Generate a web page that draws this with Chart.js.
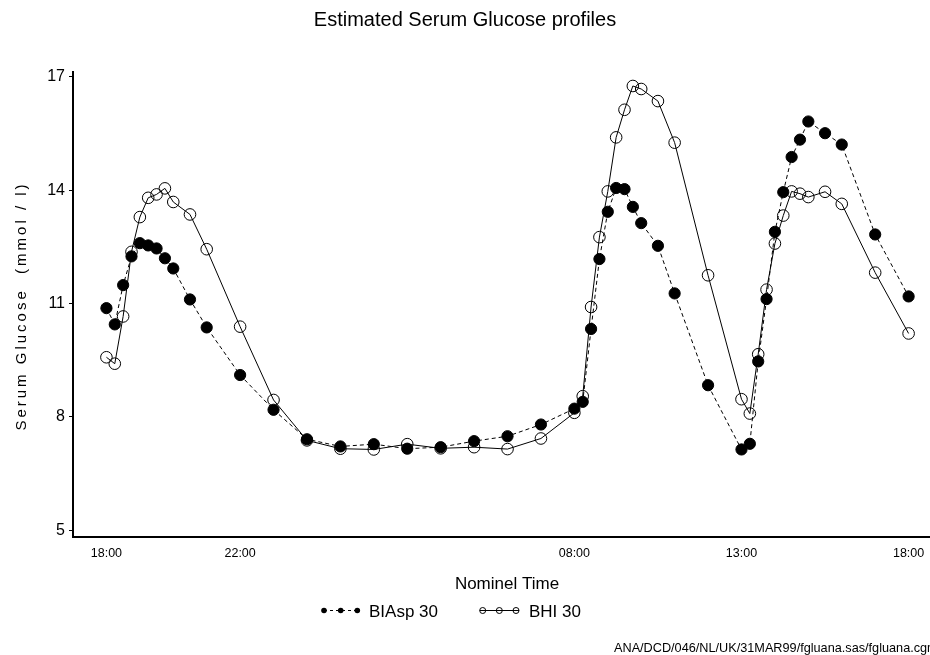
<!DOCTYPE html>
<html><head><meta charset="utf-8">
<script src="https://cdn.jsdelivr.net/npm/chart.js@4.4.0/dist/chart.umd.min.js"></script>
<style>html,body{margin:0;padding:0;background:#fff;}</style>
</head><body>
<canvas id="c" width="930" height="655" style="display:block;width:930px;height:655px"></canvas>
<script>
// hours after 18:00 on day 1
const hoursFrom1800 = [0,0.25,0.5,0.75,1,1.25,1.5,1.75,2,2.5,3,4,5,6,7,8,9,10,11,12,13,14,14.25,14.5,14.75,15,15.25,15.5,15.75,16,16.5,17,18,19,19.25,19.5,19.75,20,20.25,20.5,20.75,21,21.5,22,23,24];
const biasp30 = [10.88,10.45,11.49,12.25,12.60,12.54,12.46,12.20,11.93,11.11,10.37,9.11,8.19,7.41,7.22,7.28,7.16,7.20,7.36,7.49,7.80,8.22,8.40,10.33,12.18,13.43,14.06,14.03,13.56,13.13,12.53,11.27,8.84,7.14,7.29,9.47,11.12,12.90,13.95,14.88,15.34,15.82,15.51,15.21,12.83,11.19];
const bhi30 = [9.58,9.41,10.66,12.37,13.29,13.80,13.89,14.05,13.69,13.36,12.44,10.39,8.45,7.38,7.16,7.14,7.28,7.17,7.20,7.15,7.43,8.11,8.55,10.91,12.76,13.97,15.40,16.13,16.76,16.68,16.36,15.26,11.75,8.47,8.09,9.66,11.37,12.59,13.33,13.97,13.91,13.82,13.96,13.64,11.82,10.21];
const seriesNames = ['BIAsp 30','BHI 30'];
const xTickValues = [0,4,14,19,24];
const xTickLabels = ['18:00','22:00','08:00','13:00','18:00'];
const yTickValues = [5,8,11,14,17];
const chartTitle = 'Estimated Serum Glucose profiles';
const xAxisTitle = 'Nominel Time';
const yAxisTitle = 'Serum Glucose  (mmol / l)';
const footnote = 'ANA/DCD/046/NL/UK/31MAR99/fgluana.sas/fgluana.cgm';

const FONT = '"Liberation Sans", Arial, Helvetica, sans-serif';

const textPlugin = {
  id: 'texts',
  afterDraw(chart) {
    const ctx = chart.ctx;
    ctx.save();
    ctx.fillStyle = '#000';
    ctx.textBaseline = 'alphabetic';
    // title
    ctx.font = '20px ' + FONT;
    ctx.textAlign = 'center';
    ctx.fillText(chartTitle, 465, 26);
    // x title
    ctx.font = '17px ' + FONT;
    ctx.fillText(xAxisTitle, 507, 589);
    // y title
    ctx.save();
    ctx.translate(26, 306);
    ctx.rotate(-Math.PI / 2);
    ctx.font = '15px ' + FONT;
    ctx.letterSpacing = '3px';
    ctx.textAlign = 'center';
    ctx.fillText(yAxisTitle, 0, 0);
    ctx.restore();
    // legend
    const ly = 610.5;
    ctx.textAlign = 'left';
    ctx.font = '17px ' + FONT;
    // BIAsp
    ctx.strokeStyle = '#000';
    ctx.lineWidth = 1;
    ctx.setLineDash([3, 3]);
    ctx.beginPath(); ctx.moveTo(324, ly); ctx.lineTo(357, ly); ctx.stroke();
    ctx.setLineDash([]);
    [324, 340.7, 357.3].forEach(x => { ctx.beginPath(); ctx.arc(x, ly, 2.8, 0, Math.PI * 2); ctx.fill(); });
    ctx.fillText(seriesNames[0], 369, 617);
    // BHI
    ctx.beginPath(); ctx.moveTo(482.7, ly); ctx.lineTo(516, ly); ctx.stroke();
    [482.7, 499.3, 516].forEach(x => { ctx.beginPath(); ctx.arc(x, ly, 3, 0, Math.PI * 2); ctx.fillStyle = '#fff'; ctx.fill(); ctx.stroke(); });
    ctx.beginPath(); ctx.moveTo(479.7, ly); ctx.lineTo(519, ly); ctx.stroke();
    ctx.fillStyle = '#000';
    ctx.fillText(seriesNames[1], 529, 617);
    // footnote
    ctx.font = '12.7px ' + FONT;
    ctx.fillText(footnote, 614, 652);
    ctx.restore();
  }
};

const mkPoints = vals => hoursFrom1800.map((h, i) => ({ x: h, y: vals[i] }));

new Chart(document.getElementById('c'), {
  type: 'line',
  data: {
    datasets: [
      {
        label: seriesNames[0],
        data: mkPoints(biasp30),
        borderColor: '#000',
        borderWidth: 1,
        borderDash: [4, 3],
        pointRadius: 5.6,
        pointBackgroundColor: '#000',
        pointBorderColor: '#000',
        pointBorderWidth: 1,
        tension: 0,
        fill: false
      },
      {
        label: seriesNames[1],
        data: mkPoints(bhi30),
        borderColor: '#000',
        borderWidth: 1,
        pointRadius: 5.8,
        pointBackgroundColor: 'rgba(0,0,0,0)',
        pointBorderColor: '#000',
        pointBorderWidth: 1,
        tension: 0,
        fill: false
      }
    ]
  },
  options: {
    responsive: false,
    devicePixelRatio: 1,
    animation: false,
    layout: { autoPadding: false, padding: { top: 72, left: 0, right: 0, bottom: 98 } },
    plugins: { legend: { display: false }, title: { display: false }, tooltip: { enabled: false } },
    scales: {
      x: {
        type: 'linear',
        min: -1,
        max: 24.64,
        afterFit: s => { s.height = 20; s.paddingLeft = 0; s.paddingRight = 0; },
        afterBuildTicks: s => { s.ticks = xTickValues.map(v => ({ value: v })); },
        ticks: {
          padding: 9,
          color: '#000',
          font: { family: FONT, size: 12.5 },
          maxRotation: 0,
          autoSkip: false,
          callback: v => xTickLabels[xTickValues.indexOf(v)]
        },
        grid: { display: true, drawOnChartArea: false, drawTicks: false, color: '#000' },
        border: { display: true, color: '#000', width: 2 }
      },
      y: {
        type: 'linear',
        min: 4.823,
        max: 17.13,
        afterFit: s => { s.width = 73; s.paddingTop = 0; s.paddingBottom = 0; },
        afterBuildTicks: s => { s.ticks = yTickValues.map(v => ({ value: v })); },
        ticks: {
          padding: 4,
          color: '#000',
          font: { family: FONT, size: 16 },
          autoSkip: false,
          callback: v => String(v)
        },
        grid: { display: true, drawOnChartArea: false, drawTicks: true, tickLength: 4, color: '#000', lineWidth: 1 },
        border: { display: true, color: '#000', width: 2 }
      }
    }
  },
  plugins: [textPlugin]
});
</script>
</body></html>
